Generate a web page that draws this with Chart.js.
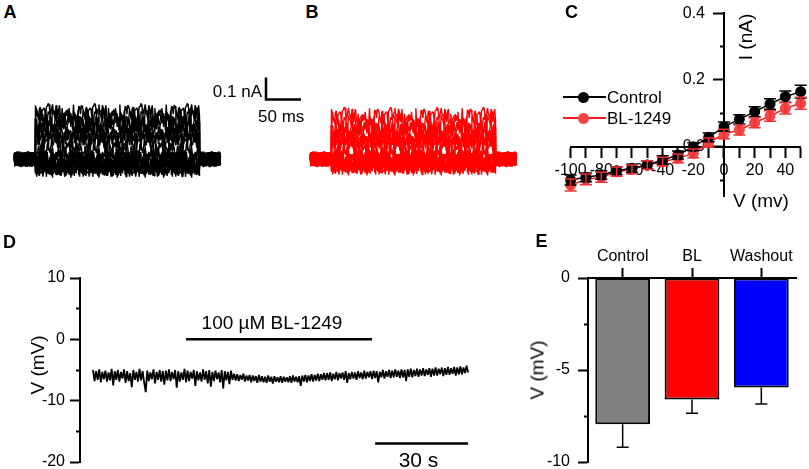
<!DOCTYPE html>
<html>
<head>
<meta charset="utf-8">
<script src="https://cdn.jsdelivr.net/npm/chart.js@4.4.1/dist/chart.umd.min.js"></script>
<style>
  html, body { margin: 0; padding: 0; background: #fff; }
  #fig { position: relative; width: 809px; height: 469px; overflow: hidden;
         font-family: "Liberation Sans", Arial, sans-serif; color: #000; }
  #fig canvas { position: absolute; }
  .t { position: absolute; white-space: nowrap; line-height: 1; }
</style>
</head>
<body>
<div id="fig">
  <canvas id="chartA" width="308" height="154" style="left:0px;top:49px"></canvas>
  <canvas id="chartB" width="224" height="154" style="left:296px;top:49px"></canvas>
  <canvas id="chartC" width="279" height="230" style="left:530px;top:0px"></canvas>
  <canvas id="chartD" width="480" height="240" style="left:0px;top:250px"></canvas>
  <canvas id="chartE" width="309" height="260" style="left:500px;top:230px"></canvas>
</div>
<script>
// ---------- A / B : current sweeps ----------
const sweepStepOn = 30;      // ms
const sweepStepOff = 265;    // ms
const sweepEnd = 295;        // ms
const sweepSampleMs = 1.25;
// steady level of each sweep during the step (nA, -100 ... +50 mV)
const sweepLevelsA = [-0.045, -0.04, -0.035, -0.028, -0.02, -0.01, 0.0, 0.012, 0.04, 0.07, 0.1, 0.126, 0.15, 0.17, 0.192, 0.212];
const sweepLevelsB = [-0.035, -0.03, -0.026, -0.02, -0.014, -0.007, 0.0, 0.01, 0.03, 0.055, 0.08, 0.1, 0.12, 0.14, 0.166, 0.195];
// recording noise (fraction of the noise band)
const sweepNoise = [0.6, -0.8, 0.3, -0.4, 0.9, -0.2, -0.9, 0.5, -0.6, 0.1,
  0.8, -0.7, 0.4, -1.0, 0.2, 0.7, -0.3, -0.8, 0.9, -0.5,
  0.3, -0.1, 0.6, -0.9, 0.8, -0.4, 0.0, 0.7, -0.6, 0.5,
  -0.8, 0.2, 1.0, -0.3, -0.7, 0.4, -0.2, 0.9, -0.9, 0.3,
  0.6, -0.5, 0.1, -0.6, 0.8, -1.0, 0.5, -0.2, 0.7, -0.4,
  0.2, -0.7, 0.4];
// where each sweep starts in the noise record and how it steps through it
const sweepShift = [0, 17, 31, 5, 42, 23, 11, 38, 2, 29, 47, 14, 35, 8, 26, 44];
const sweepStride = [1, 3, 2, 5, 4, 7, 3, 6, 2, 5, 1, 4, 3, 6, 2, 5];
const sweepNoiseBase = 0.034;  // nA
const sweepNoiseStep = 0.04;   // nA
// scale bar: 50 ms / 0.1 nA
const scaleBarA = { t0: 360, t1: 410, i0: 0.27, i1: 0.37 };

// ---------- C : I-V relation ----------
const ivVoltages = [-100, -90, -80, -70, -60, -50, -40, -30, -20, -10, 0, 10, 20, 30, 40, 50];
const ivControl = [-0.100, -0.092, -0.085, -0.072, -0.065, -0.055, -0.040, -0.025, 0.000, 0.028, 0.060, 0.082, 0.105, 0.128, 0.150, 0.165];
const ivControlErr = [0.015, 0.013, 0.013, 0.012, 0.012, 0.012, 0.013, 0.012, 0.012, 0.013, 0.014, 0.014, 0.015, 0.016, 0.017, 0.019];
const ivBL = [-0.115, -0.098, -0.092, -0.075, -0.068, -0.055, -0.045, -0.035, -0.020, 0.012, 0.038, 0.050, 0.072, 0.092, 0.115, 0.130];
const ivBLErr = [0.018, 0.016, 0.015, 0.014, 0.013, 0.013, 0.013, 0.013, 0.013, 0.014, 0.014, 0.015, 0.015, 0.016, 0.017, 0.018];
const ivXTicks = [-100, -90, -80, -70, -60, -50, -40, -30, -20, -10, 0, 10, 20, 30, 40, 50];
const ivXLabels = [-100, -80, -60, -40, -20, 0, 20, 40];
const ivYMajor = [0.4, 0.2, 0.0];
const ivYMinor = [0.3, 0.1, -0.1];

// ---------- D : membrane potential ----------
const vmSampleS = 0.5;
const vmTrace = [
  -5.0,-6.8,-5.2,-6.6,-4.9,-7.0,-5.3,-6.5,-5.1,-6.9,
  -5.4,-6.7,-4.8,-7.5,-5.2,-6.6,-5.0,-6.9,-5.3,-6.4,
  -4.9,-7.1,-5.2,-6.8,-5.5,-7.8,-5.0,-6.6,-5.3,-6.9,
  -4.8,-6.7,-5.2,-7.0,-8.6,-5.1,-6.8,-5.4,-6.5,-4.9,
  -7.2,-5.3,-6.6,-5.0,-6.9,-5.2,-7.4,-5.1,-6.7,-4.9,
  -6.8,-5.3,-6.5,-5.0,-7.9,-5.2,-6.9,-5.4,-6.6,-4.8,
  -7.0,-5.1,-6.8,-5.3,-6.4,-5.0,-7.6,-5.2,-6.7,-5.4,
  -6.9,-4.9,-6.6,-5.2,-7.2,-5.0,-7.7,-5.3,-6.8,-5.1,
  -6.5,-5.4,-7.0,-5.0,-8.0,-5.2,-6.7,-5.3,-7.3,-5.1,
  -6.6,
  -5.6,-6.7,-5.7,-6.8,-5.8,-6.6,-5.6,-6.9,-5.9,-6.7,
  -5.8,-7.0,-5.9,-6.8,-6.0,-7.1,-5.8,-6.9,-6.0,-7.0,
  -6.1,-7.1,-5.9,-6.9,-6.1,-7.2,-6.0,-6.9,-6.2,-7.0,
  -6.0,-7.1,-6.1,-6.9,-6.2,-7.0,-6.0,-7.1,-5.9,-6.9,
  -6.1,-7.0,-6.0,-7.6,-5.9,-6.9,-5.8,-7.0,-5.9,-6.8,
  -5.7,-6.9,-5.8,-6.7,-5.6,-6.8,-5.7,-6.6,-5.5,
  -6.7,-5.5,-6.6,-5.4,-6.8,-5.6,-6.5,-5.3,-6.7,-5.5,
  -6.4,-5.4,-6.6,-5.2,-7.1,-5.5,-6.5,-5.3,-6.4,-5.4,
  -6.6,-5.2,-6.3,-5.4,-6.5,-5.1,-6.4,-5.3,-6.2,-5.2,
  -6.5,-5.1,-6.3,-5.2,-7.0,-5.3,-6.2,-5.0,-6.4,-5.2,
  -6.1,-5.0,-6.3,-5.1,-6.2,-4.9,-6.1,-5.1,-6.3,-4.9,
  -6.2,-5.0,-6.8,-4.9,-6.1,-4.8,-6.2,-5.0,-6.0,-4.8,
  -6.1,-4.9,-5.9,-4.7,-6.0,-4.9,-5.8,-4.7,-6.1,-4.8,
  -5.9,-4.6,-5.9,-4.8,-5.7,-4.6,-6.0,-4.7,-5.8,-4.5,
  -5.8,-4.7,-5.6,-4.5,-5.9,-4.6,-5.7,-4.4,-5.7,-4.6,
  -5.5,-4.3,-5.4
];
const drugBar = { t0: 30, t1: 90, v: 0 };      // 100 µM BL-1249 application
const timeBar = { t0: 91, t1: 121, v: -17 };   // 30 s
const vmYMajor = [10, 0, -10, -20];
const vmYMinor = [5, -5, -15];

// ---------- E : mean membrane potential ----------
const restGroups = ['Control', 'BL', 'Washout'];
const restMean = [-7.95, -6.6, -5.95];
const restErr = [1.25, 0.75, 0.9];
const restColors = ['#808080', '#ff0000', '#0000ff'];
const restYMajor = [0, -5, -10];
const restYMinor = [-2.5, -7.5];

// ---------- common ----------
const FONT = '"Liberation Sans", Arial, sans-serif';
Chart.defaults.font.family = FONT;
Chart.defaults.color = '#000';
Chart.defaults.animation = false;
Chart.defaults.responsive = false;
Chart.defaults.plugins.legend.display = false;
Chart.defaults.plugins.tooltip.enabled = false;

const fixTicks = list => scale => { scale.ticks = list.map(v => ({ value: v })); };
const axisGrid = len => ({ drawOnChartArea: false, tickLength: len, tickWidth: 2, tickColor: '#000' });
const axisBorder = { width: 2, color: '#000' };

const errorBars = {
    id: 'errorBars',
    afterDatasetsDraw(chart) {
        const ctx = chart.ctx;
        const yScale = chart.scales.y;
        chart.data.datasets.forEach((ds, di) => {
            if (!ds.errors) return;
            const meta = chart.getDatasetMeta(di);
            ctx.save();
            ctx.strokeStyle = ds.errorColor || '#000';
            ctx.lineWidth = ds.errorWidth || 1.5;
            meta.data.forEach((el, i) => {
                const raw = ds.data[i];
                const v = typeof raw === 'number' ? raw : raw.y;
                const e = ds.errors[i];
                const yLo = yScale.getPixelForValue(v - e);
                const yHi = ds.errorDown ? yScale.getPixelForValue(v) : yScale.getPixelForValue(v + e);
                const half = ds.errorCap / 2;
                ctx.beginPath();
                ctx.moveTo(el.x, yHi); ctx.lineTo(el.x, yLo);
                ctx.moveTo(el.x - half, yLo); ctx.lineTo(el.x + half, yLo);
                if (!ds.errorDown) { ctx.moveTo(el.x - half, yHi); ctx.lineTo(el.x + half, yHi); }
                ctx.stroke();
            });
            ctx.restore();
        });
    }
};

// y labels of the I-V axis sit left of the ticks of an axis crossing at V = 0
const ivYLabels = {
    id: 'ivYLabels',
    beforeDatasetsDraw(chart) {
        const ctx = chart.ctx;
        const ys = chart.scales.y;
        const x0 = chart.scales.x.getPixelForValue(0);
        ctx.save();
        ctx.font = `16px ${FONT}`;
        ctx.fillStyle = '#000';
        ctx.textAlign = 'right';
        ctx.textBaseline = 'middle';
        ys.ticks.forEach(t => ctx.fillText(t.value.toFixed(1), x0 - 19, ys.getPixelForValue(t.value)));
        ctx.restore();
    }
};

function addText(str, x, y, opt) {
    const d = document.createElement('div');
    d.className = 't';
    d.textContent = str;
    d.style.left = x + 'px';
    d.style.top = y + 'px';
    d.style.fontSize = (opt.size || 16) + 'px';
    if (opt.bold) d.style.fontWeight = 'bold';
    const tx = opt.align === 'right' ? '-100%' : opt.align === 'center' ? '-50%' : '0';
    d.style.transform = opt.rotate ? 'translate(-50%,-50%) rotate(-90deg)' : `translate(${tx},-50%)`;
    document.getElementById('fig').appendChild(d);
}

// ---------- A / B ----------
function buildSweep(level, shift, stride) {
    const pts = [];
    const n = sweepNoise.length;
    let k = shift;
    const next = () => { const v = sweepNoise[k % n]; k += stride; return v; };
    for (let t = 0; t <= sweepEnd; t += sweepSampleMs) {
        const inStep = t >= sweepStepOn && t <= sweepStepOff;
        if (t === sweepStepOn) pts.push({ x: t, y: next() * sweepNoiseBase });
        pts.push({ x: t, y: (inStep ? level : 0) + next() * (inStep ? sweepNoiseStep : sweepNoiseBase) });
        if (t === sweepStepOff) pts.push({ x: t, y: next() * sweepNoiseBase });
    }
    return pts;
}

function sweepChart(id, levels, color, xMax, withScaleBar) {
    const datasets = levels.map((lv, i) => ({
        data: buildSweep(lv, sweepShift[i], sweepStride[i]),
        borderColor: color, borderWidth: 1.4, pointRadius: 0, borderJoinStyle: 'bevel'
    }));
    if (withScaleBar) {
        datasets.push({
            data: [{ x: scaleBarA.t0, y: scaleBarA.i1 }, { x: scaleBarA.t0, y: scaleBarA.i0 }, { x: scaleBarA.t1, y: scaleBarA.i0 }],
            borderColor: '#000', borderWidth: 2.5, pointRadius: 0, borderJoinStyle: 'miter'
        });
    }
    new Chart(document.getElementById(id), {
        type: 'line',
        data: { datasets },
        options: {
            layout: { padding: 0 },
            scales: {
                x: { type: 'linear', min: -20, max: xMax, display: false },
                y: { type: 'linear', min: -0.2, max: 0.5, display: false }
            }
        }
    });
}
sweepChart('chartA', sweepLevelsA, '#000', 420, true);
sweepChart('chartB', sweepLevelsB, '#ff0000', 300, false);

// ---------- C ----------
new Chart(document.getElementById('chartC'), {
    type: 'line',
    data: {
        datasets: [
            {
                data: ivVoltages.map((v, i) => ({ x: v, y: ivControl[i] })),
                borderColor: '#000', backgroundColor: '#000', borderWidth: 1.5,
                pointRadius: 5.5, pointBorderWidth: 0, clip: false,
                errors: ivControlErr, errorColor: '#000', errorCap: 12, errorWidth: 1.5
            },
            {
                data: ivVoltages.map((v, i) => ({ x: v, y: ivBL[i] })),
                borderColor: '#ff1a1a', backgroundColor: '#f24646', borderWidth: 1.5,
                pointRadius: 5.5, pointBorderWidth: 0, clip: false,
                errors: ivBLErr, errorColor: '#f03030', errorCap: 12, errorWidth: 1.5
            }
        ]
    },
    options: {
        layout: { padding: { left: 40.6, right: 8.3, top: 13.3, bottom: 33.3 } },
        scales: {
            x: {
                type: 'linear', min: -100, max: 50, position: { y: 0 },
                afterBuildTicks: fixTicks(ivXTicks),
                ticks: { autoSkip: false, maxRotation: 0, padding: 4, font: { size: 16 },
                         callback: v => ivXLabels.includes(v) ? String(v) : '' },
                grid: axisGrid(10), border: axisBorder
            },
            y: {
                type: 'linear', min: -0.15, max: 0.4, position: { x: 0 },
                afterBuildTicks: fixTicks(ivYMajor),
                ticks: { callback: () => '' },
                grid: axisGrid(10), border: axisBorder
            },
            yMinor: {
                type: 'linear', min: -0.15, max: 0.4, position: { x: 0 },
                afterBuildTicks: fixTicks(ivYMinor),
                ticks: { callback: () => '' },
                grid: axisGrid(4), border: { display: false }
            }
        }
    },
    plugins: [ivYLabels, errorBars]
});

// ---------- D ----------
const dXMin = -4.2, dXMax = 121.8;
new Chart(document.getElementById('chartD'), {
    type: 'line',
    data: {
        datasets: [
            {
                data: vmTrace.map((v, i) => ({ x: i * vmSampleS, y: v })),
                borderColor: '#000', borderWidth: 1.8, pointRadius: 0, borderJoinStyle: 'bevel'
            },
            {
                data: [{ x: drugBar.t0, y: drugBar.v }, { x: drugBar.t1, y: drugBar.v }],
                borderColor: '#000', borderWidth: 2.5, pointRadius: 0
            },
            {
                data: [{ x: timeBar.t0, y: timeBar.v }, { x: timeBar.t1, y: timeBar.v }],
                borderColor: '#000', borderWidth: 2.5, pointRadius: 0
            }
        ]
    },
    options: {
        layout: { padding: { left: 0, right: 9.4, top: 28, bottom: 28 } },
        scales: {
            x: { type: 'linear', min: dXMin, max: dXMax, display: false },
            y: {
                type: 'linear', min: -20, max: 10, position: 'left',
                afterFit: s => { s.width = 80; },
                afterBuildTicks: fixTicks(vmYMajor),
                ticks: { padding: 5, font: { size: 16 } },
                grid: axisGrid(10), border: axisBorder
            },
            yMinor: {
                type: 'linear', min: -20, max: 10, position: { x: dXMin },
                afterBuildTicks: fixTicks(vmYMinor),
                ticks: { callback: () => '' },
                grid: axisGrid(4), border: { display: false }
            }
        }
    }
});

// ---------- E ----------
new Chart(document.getElementById('chartE'), {
    type: 'bar',
    data: {
        labels: restGroups,
        datasets: [{
            data: restMean,
            backgroundColor: restColors, borderColor: '#000', borderWidth: 2, borderSkipped: false,
            barPercentage: 0.79, categoryPercentage: 1,
            errors: restErr, errorDown: true, errorColor: '#000', errorCap: 12, errorWidth: 1.5
        }]
    },
    options: {
        layout: { padding: { left: 0, right: 13, top: 0, bottom: 28 } },
        scales: {
            x: {
                type: 'category', position: 'top',
                afterFit: s => { s.height = 48; },
                ticks: { padding: 2, font: { size: 16 } },
                grid: Object.assign(axisGrid(10), { offset: false }), border: axisBorder
            },
            y: {
                type: 'linear', min: -10, max: 0, position: 'left',
                afterFit: s => { s.width = 88; },
                afterBuildTicks: fixTicks(restYMajor),
                ticks: { padding: 8, font: { size: 16 } },
                grid: axisGrid(10), border: axisBorder
            },
            yMinor: {
                type: 'linear', min: -10, max: 0, position: { x: -0.5 },
                afterBuildTicks: fixTicks(restYMinor),
                ticks: { callback: () => '' },
                grid: axisGrid(4), border: { display: false }
            }
        }
    },
    plugins: [errorBars]
});

// ---------- text ----------
addText('A', 10, 12, { size: 18, bold: true, align: 'center' });
addText('B', 312, 12, { size: 18, bold: true, align: 'center' });
addText('C', 571.5, 12, { size: 18, bold: true, align: 'center' });
addText('D', 9.5, 241.5, { size: 18, bold: true, align: 'center' });
addText('E', 541.5, 241, { size: 18, bold: true, align: 'center' });

addText('0.1 nA', 262, 91, { size: 17, align: 'right' });
addText('50 ms', 258, 116, { size: 17 });

addText('I (nA)', 744.5, 36.7, { size: 19, rotate: true });
addText('V (mv)', 733, 200, { size: 19 });

// legend of C
[['Control', '#000', '#000', 97], ['BL-1249', '#ff1a1a', '#f24646', 118]].forEach(([name, line, dot, y]) => {
    const fig = document.getElementById('fig');
    const l = document.createElement('div');
    l.style.cssText = `position:absolute;left:563px;top:${y - 1}px;width:43px;height:2px;background:${line}`;
    const c = document.createElement('div');
    c.style.cssText = `position:absolute;left:${583 - 5.5}px;top:${y - 5.5}px;width:11px;height:11px;border-radius:50%;background:${dot}`;
    fig.appendChild(l); fig.appendChild(c);
    addText(name, 607, y, { size: 17 });
});

addText('V (mV)', 36.7, 365, { size: 19, rotate: true });
addText('100 \u00B5M BL-1249', 272, 322, { size: 19, align: 'center' });
addText('30 s', 418.5, 459, { size: 21, align: 'center' });

addText('V (mV)', 536.7, 370, { size: 19, rotate: true });
</script>
</body>
</html>
